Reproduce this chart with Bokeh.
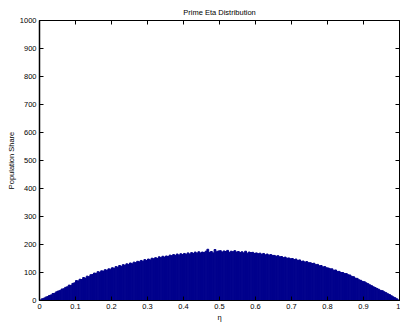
from bokeh.plotting import figure
from bokeh.models import LinearAxis, FixedTicker, Range1d
from bokeh.embed import file_html
from bokeh.resources import INLINE

# ---- data (200 bins of width 0.005) ----
bin_left = [i * 0.005 for i in range(200)]
bin_right = [(i + 1) * 0.005 for i in range(200)]
counts = [
    2, 6, 8, 12, 14, 18, 20, 25, 26, 31,
    34, 36, 41, 42, 47, 49, 55, 54, 61, 63,
    71, 70, 76, 75, 82, 80, 87, 85, 92, 93,
    98, 97, 103, 101, 106, 105, 110, 108, 113, 112,
    117, 115, 121, 119, 125, 122, 128, 126, 131, 129,
    134, 131, 137, 135, 140, 138, 143, 140, 146, 143,
    148, 145, 151, 149, 153, 150, 156, 153, 158, 155,
    159, 157, 162, 160, 164, 161, 166, 162, 167, 164,
    168, 165, 170, 166, 171, 168, 173, 169, 174, 170,
    173, 171, 176, 183, 172, 175, 170, 182, 174, 177,
    178, 173, 177, 175, 179, 172, 176, 174, 178, 173,
    175, 171, 174, 170, 176, 169, 173, 171, 172, 168,
    170, 167, 169, 165, 168, 163, 166, 162, 164, 161,
    161, 158, 160, 156, 157, 153, 155, 151, 152, 149,
    150, 146, 148, 143, 145, 140, 141, 137, 139, 135,
    135, 132, 133, 128, 129, 124, 125, 120, 121, 117,
    116, 113, 113, 108, 109, 104, 104, 100, 100, 96,
    96, 92, 91, 86, 85, 80, 79, 74, 72, 68,
    67, 63, 60, 56, 53, 49, 46, 43, 40, 36,
    35, 31, 28, 24, 21, 17, 13, 10, 6, 2,
]
x_ticks = [0, 0.1, 0.2, 0.3, 0.4, 0.5, 0.6, 0.7, 0.8, 0.9, 1.0]
x_tick_labels = ["0", "0.1", "0.2", "0.3", "0.4", "0.5", "0.6", "0.7", "0.8", "0.9", "1"]
y_ticks = [0, 100, 200, 300, 400, 500, 600, 700, 800, 900, 1000]
title_text = "Prime Eta Distribution"
x_label = "η"
y_label = "Population Share"

FONT = "Liberation Sans"
FS = "7.5px"
BAR = "#00008C"

p = figure(width=400, height=324, output_backend="svg", toolbar_location=None,
           x_range=Range1d(0, 1), y_range=Range1d(0, 1000),
           min_border_left=39, min_border_right=1, min_border_top=20, min_border_bottom=22,
           x_axis_location=None, y_axis_location=None)
p.grid.visible = False
p.outline_line_color = "black"
p.outline_line_width = 1
p.background_fill_color = "white"
p.border_fill_color = "white"

p.title.text = title_text
p.title.align = "center"
p.title.text_font = FONT
p.title.text_font_size = FS
p.title.text_font_style = "normal"
p.title.text_color = "black"
p.title.standoff = 7

p.quad(left=bin_left, right=bin_right, bottom=0, top=counts,
       fill_color=BAR, line_color=BAR, line_width=1)

def style(ax, labels=True):
    ax.major_tick_in = 4
    ax.major_tick_out = 0
    ax.minor_tick_line_color = None
    ax.axis_line_color = "black"
    ax.major_tick_line_color = "black"
    ax.major_label_text_font = FONT
    ax.major_label_text_font_size = FS if labels else "1px"
    ax.major_label_text_color = "black" if labels else None
    ax.major_label_standoff = 3 if labels else 0
    ax.axis_label_text_font = FONT
    ax.axis_label_text_font_size = FS
    ax.axis_label_text_font_style = "normal"
    ax.axis_label_text_color = "black"

xb = LinearAxis(ticker=FixedTicker(ticks=x_ticks), axis_label=x_label)
xb.major_label_overrides = dict(zip(x_ticks, x_tick_labels))
style(xb)
xb.axis_label_standoff = 1
p.add_layout(xb, "below")

yl = LinearAxis(ticker=FixedTicker(ticks=y_ticks), axis_label=y_label)
style(yl)
yl.axis_label_standoff = 1
yl.axis_line_width = 1.5
p.add_layout(yl, "left")

xt = LinearAxis(ticker=FixedTicker(ticks=x_ticks))
style(xt, labels=False)
p.add_layout(xt, "above")

yr = LinearAxis(ticker=FixedTicker(ticks=y_ticks))
style(yr, labels=False)
p.add_layout(yr, "right")

open("out.html", "w").write(file_html(p, INLINE))
